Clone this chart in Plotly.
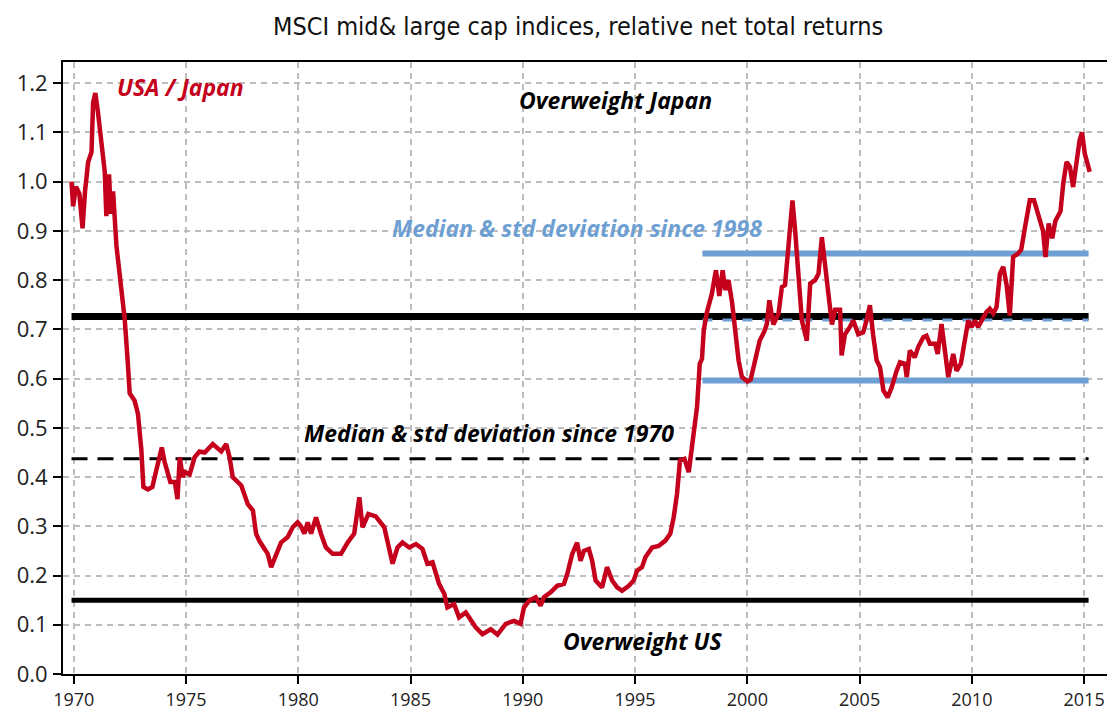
import plotly.graph_objects as go

# ---- data ----
years = [
    1969.90, 1969.97, 1970.10, 1970.25, 1970.39, 1970.50, 1970.64, 1970.79, 1970.86, 1970.96,
    1971.08, 1971.23, 1971.38, 1971.45, 1971.57, 1971.65, 1971.75, 1971.90, 1972.12, 1972.27,
    1972.41, 1972.49, 1972.71, 1972.86, 1973.01, 1973.10, 1973.30, 1973.50, 1973.68, 1973.92,
    1974.05, 1974.30, 1974.50, 1974.62, 1974.72, 1974.85, 1974.95, 1975.16, 1975.38, 1975.60,
    1975.83, 1976.19, 1976.57, 1976.79, 1976.94, 1977.08, 1977.46, 1977.75, 1977.98, 1978.12,
    1978.27, 1978.49, 1978.64, 1978.79, 1979.01, 1979.23, 1979.53, 1979.75, 1979.97, 1980.12,
    1980.27, 1980.42, 1980.57, 1980.79, 1981.01, 1981.23, 1981.53, 1981.90, 1982.20, 1982.49,
    1982.72, 1982.86, 1983.12, 1983.45, 1983.83, 1984.05, 1984.20, 1984.42, 1984.64, 1984.94,
    1985.24, 1985.53, 1985.75, 1985.98, 1986.27, 1986.50, 1986.64, 1986.94, 1987.16, 1987.46,
    1987.68, 1987.90, 1988.20, 1988.57, 1988.87, 1989.24, 1989.61, 1989.90, 1990.05, 1990.28,
    1990.57, 1990.79, 1990.94, 1991.24, 1991.53, 1991.83, 1991.98, 1992.20, 1992.42, 1992.57,
    1992.72, 1992.94, 1993.09, 1993.24, 1993.53, 1993.75, 1993.98, 1994.20, 1994.42, 1994.72,
    1994.94, 1995.09, 1995.31, 1995.46, 1995.76, 1996.05, 1996.35, 1996.57, 1996.72, 1996.87,
    1997.00, 1997.20, 1997.39, 1997.61, 1997.76, 1997.88, 1997.98, 1998.06, 1998.20, 1998.42,
    1998.60, 1998.75, 1998.90, 1999.02, 1999.16, 1999.32, 1999.46, 1999.61, 1999.76, 2000.00,
    2000.15, 2000.32, 2000.55, 2000.75, 2000.87, 2000.98, 2001.16, 2001.39, 2001.54, 2001.68,
    2001.84, 2002.01, 2002.13, 2002.28, 2002.43, 2002.65, 2002.80, 2003.02, 2003.17, 2003.32,
    2003.47, 2003.69, 2003.77, 2003.91, 2004.13, 2004.20, 2004.35, 2004.57, 2004.72, 2004.94,
    2005.16, 2005.31, 2005.46, 2005.60, 2005.76, 2005.91, 2006.06, 2006.25, 2006.43, 2006.65,
    2006.80, 2007.02, 2007.10, 2007.24, 2007.46, 2007.61, 2007.84, 2007.98, 2008.13, 2008.36,
    2008.48, 2008.65, 2008.80, 2008.95, 2009.17, 2009.32, 2009.51, 2009.69, 2009.84, 2009.99,
    2010.14, 2010.28, 2010.43, 2010.65, 2010.80, 2010.95, 2011.10, 2011.25, 2011.40, 2011.55,
    2011.69, 2011.84, 2012.06, 2012.20, 2012.36, 2012.58, 2012.77, 2012.98, 2013.17, 2013.28,
    2013.42, 2013.58, 2013.72, 2013.95, 2014.07, 2014.22, 2014.37, 2014.51, 2014.66, 2014.80,
    2014.91, 2015.03, 2015.25,
]
usa_japan = [
    1.000, 0.950, 0.990, 0.975, 0.905, 0.980, 1.040, 1.060, 1.160, 1.180,
    1.140, 1.085, 1.020, 0.930, 1.015, 0.935, 0.980, 0.870, 0.770, 0.720,
    0.630, 0.570, 0.555, 0.528, 0.455, 0.380, 0.375, 0.380, 0.415, 0.460,
    0.430, 0.390, 0.390, 0.355, 0.440, 0.400, 0.410, 0.405, 0.440, 0.452,
    0.450, 0.467, 0.452, 0.467, 0.440, 0.400, 0.383, 0.345, 0.332, 0.285,
    0.270, 0.254, 0.244, 0.217, 0.244, 0.267, 0.278, 0.298, 0.308, 0.300,
    0.285, 0.308, 0.285, 0.318, 0.285, 0.257, 0.244, 0.244, 0.267, 0.285,
    0.359, 0.298, 0.325, 0.320, 0.298, 0.257, 0.224, 0.257, 0.267, 0.257,
    0.264, 0.254, 0.224, 0.227, 0.183, 0.163, 0.135, 0.142, 0.115, 0.125,
    0.108, 0.095, 0.081, 0.091, 0.080, 0.102, 0.108, 0.102, 0.135, 0.149,
    0.156, 0.139, 0.156, 0.166, 0.179, 0.183, 0.203, 0.244, 0.267, 0.230,
    0.250, 0.254, 0.230, 0.190, 0.176, 0.217, 0.190, 0.176, 0.169, 0.179,
    0.190, 0.210, 0.217, 0.237, 0.257, 0.260, 0.271, 0.285, 0.318, 0.366,
    0.434, 0.437, 0.410, 0.481, 0.542, 0.630, 0.640, 0.698, 0.735, 0.772,
    0.820, 0.768, 0.820, 0.780, 0.800, 0.755, 0.705, 0.637, 0.603, 0.594,
    0.598, 0.630, 0.677, 0.695, 0.711, 0.759, 0.710, 0.732, 0.786, 0.790,
    0.867, 0.962, 0.900, 0.813, 0.718, 0.677, 0.793, 0.800, 0.813, 0.887,
    0.830, 0.745, 0.710, 0.740, 0.740, 0.647, 0.690, 0.705, 0.718, 0.690,
    0.694, 0.718, 0.749, 0.690, 0.637, 0.623, 0.576, 0.562, 0.582, 0.616,
    0.633, 0.630, 0.603, 0.657, 0.643, 0.664, 0.684, 0.687, 0.671, 0.671,
    0.650, 0.711, 0.664, 0.603, 0.650, 0.616, 0.630, 0.677, 0.718, 0.705,
    0.718, 0.705, 0.718, 0.735, 0.742, 0.732, 0.745, 0.813, 0.827, 0.790,
    0.728, 0.847, 0.854, 0.862, 0.905, 0.962, 0.962, 0.925, 0.900, 0.847,
    0.915, 0.885, 0.920, 0.940, 0.996, 1.040, 1.030, 0.989, 1.040, 1.084,
    1.100, 1.057, 1.020,
]

# reference levels
median_1970 = 0.726
upper_1970 = 0.150
lower_1970 = 0.437
median_1998 = 0.719
upper_1998 = 0.854
lower_1998 = 0.596
span_1970 = [1969.9, 2015.2]
span_1998 = [1998.0, 2015.2]

x_ticks = [1970, 1975, 1980, 1985, 1990, 1995, 2000, 2005, 2010, 2015]
y_ticks = [0.0, 0.1, 0.2, 0.3, 0.4, 0.5, 0.6, 0.7, 0.8, 0.9, 1.0, 1.1, 1.2]

RED = "#C5001C"
BLUE = "#6E9FD2"
LABEL_FONT = "'Open Sans', Lato, sans-serif"
NARROW = "'Liberation Sans Narrow', 'DejaVu Sans Condensed', 'Open Sans', sans-serif"
TICK_FONT = "'Open Sans', sans-serif"

fig = go.Figure()

def hline(y, xs, color, width, dash="solid"):
    fig.add_trace(go.Scatter(x=xs, y=[y, y], mode="lines",
                             line=dict(color=color, width=width, dash=dash),
                             hoverinfo="skip", showlegend=False))

hline(median_1970, span_1970, "black", 7)
hline(upper_1970, span_1970, "black", 5)
hline(lower_1970, span_1970, "black", 3, dash="16px,10px")
hline(upper_1998, span_1998, BLUE, 6)
hline(lower_1998, span_1998, BLUE, 6)
hline(median_1998, span_1998, BLUE, 3, dash="10px,10px")

fig.add_trace(go.Scatter(x=years, y=usa_japan, mode="lines",
                         line=dict(color=RED, width=4.5), name="USA / Japan",
                         showlegend=False))

def label(text, x, y, color, size=23):
    fig.add_annotation(x=x, y=y, text=text, showarrow=False,
                       font=dict(family=LABEL_FONT, size=size, color=color,
                                 style="italic", weight="bold"),
                       xanchor="center", yanchor="middle")

label("USA / Japan", 1974.76, 1.192, RED)
label("Overweight Japan", 1994.14, 1.165, "black")
label("Median &amp; std deviation since 1998", 1992.41, 0.905, BLUE)
label("Median &amp; std deviation since 1970", 1988.5, 0.49, "black")
label("Overweight US", 1995.34, 0.068, "black")

axis_common = dict(showline=True, linecolor="black", linewidth=2, mirror=True,
                   ticks="outside", tickcolor="black", tickwidth=2, ticklen=8,
                   showgrid=True, gridcolor="#BDBDBD", gridwidth=1.5, griddash="6px,5px",
                   zeroline=False)

# page body adds an 8px offset; compensate so the plot area sits where the reference has it
fig.update_layout(
    width=1107, height=714,
    margin=dict(l=55, r=6, t=54, b=48),
    paper_bgcolor="white", plot_bgcolor="white",
    title=dict(text="MSCI mid&amp; large cap indices, relative net total returns",
               x=0.515, xanchor="center", y=0.975, yanchor="middle",
               font=dict(family=NARROW, size=25, color="#111")),
    xaxis=dict(range=[1969.52, 2016.02], tickvals=x_ticks,
               ticktext=[str(v) for v in x_ticks],
               tickfont=dict(family=TICK_FONT, size=18, color="#222"), **axis_common),
    yaxis=dict(range=[0, 1.243], tickvals=y_ticks,
               ticktext=[f"{v:.1f}" for v in y_ticks], ticklabelstandoff=1,
               tickfont=dict(family=TICK_FONT, size=22, color="#222"), **axis_common),
)

fig.write_html("out.html")
